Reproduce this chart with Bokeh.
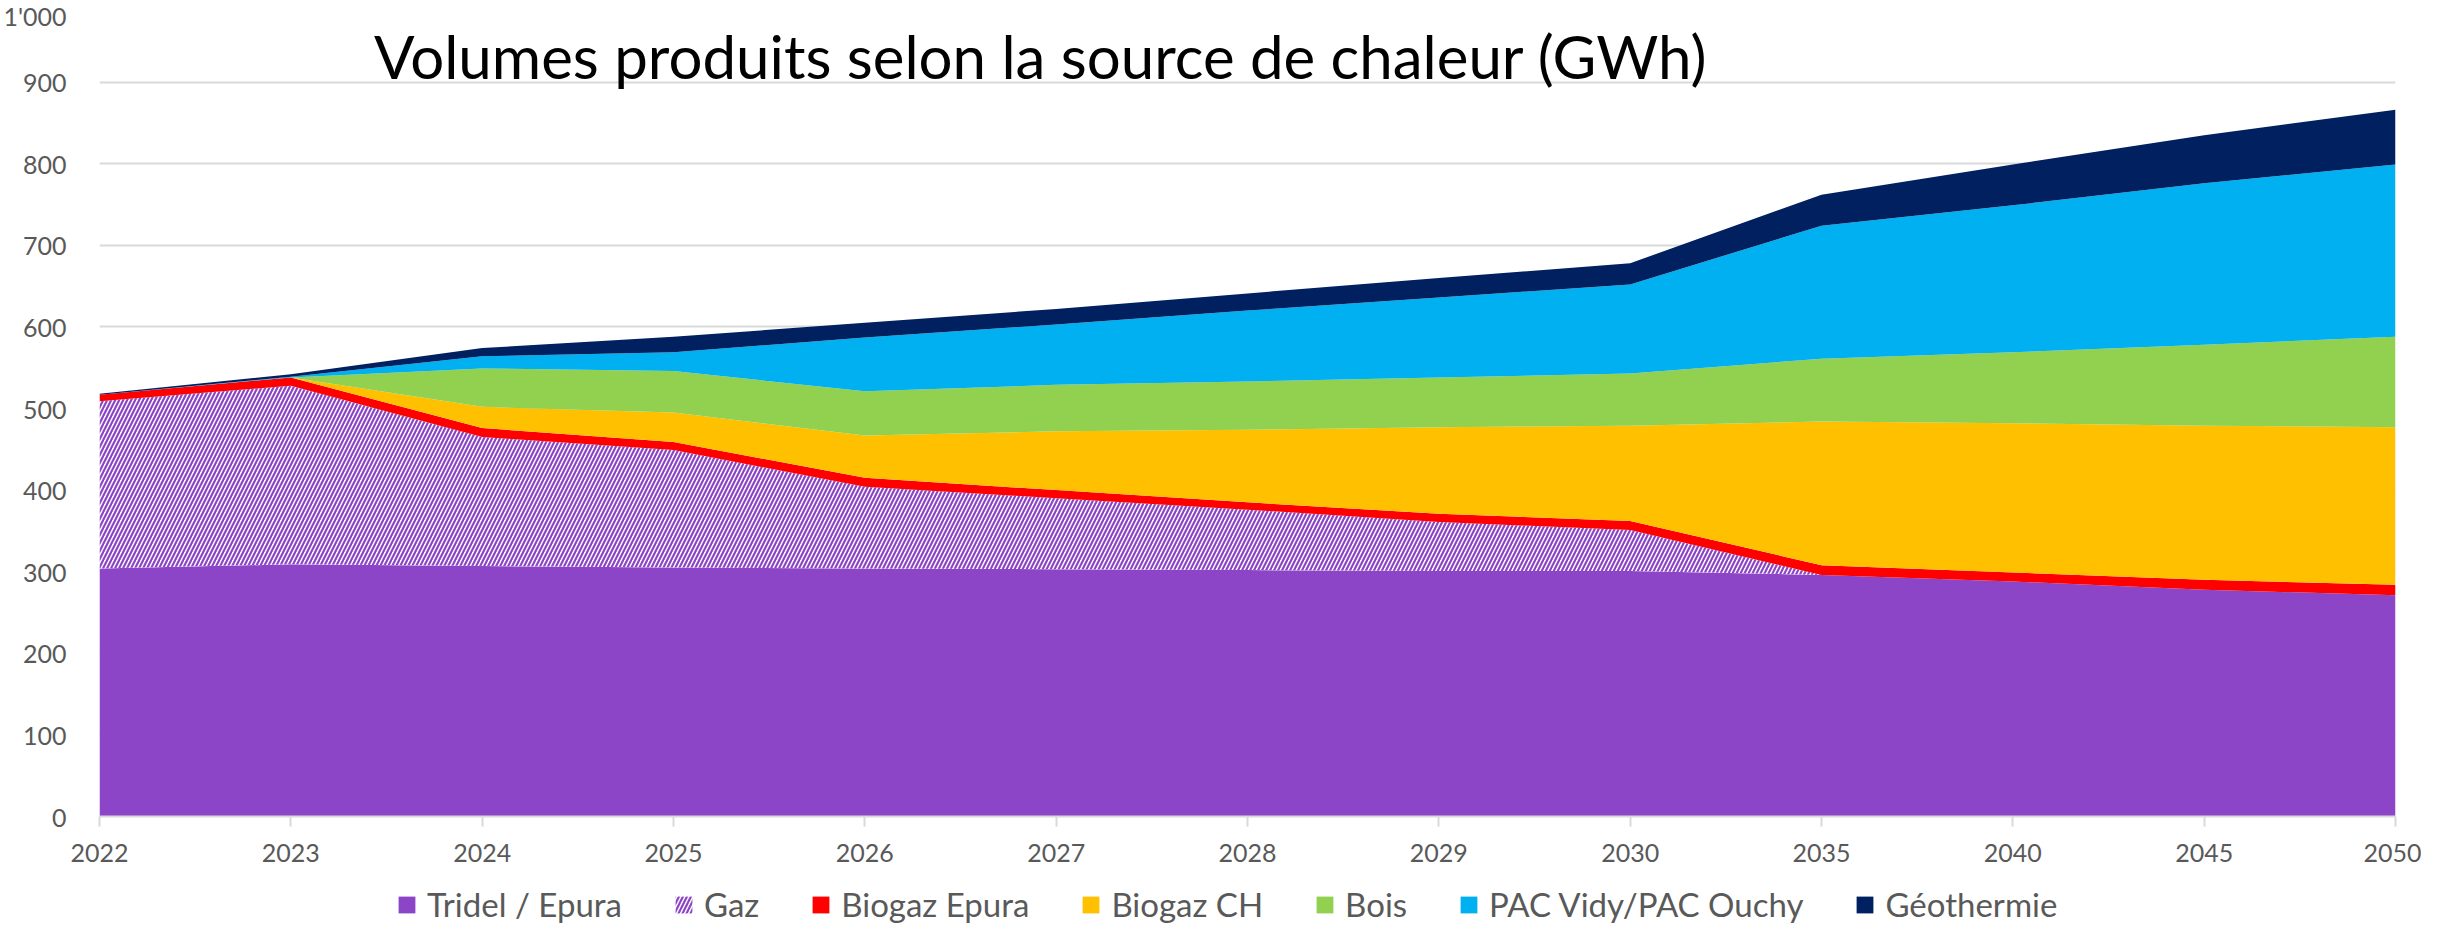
from bokeh.plotting import figure
from bokeh.models import ColumnDataSource, Range1d, FixedTicker, Label, Legend
from bokeh.transform import stack
from bokeh.layouts import column
from bokeh.embed import file_html
from bokeh.resources import INLINE

years = ["2022", "2023", "2024", "2025", "2026", "2027", "2028", "2029", "2030", "2035", "2040", "2045", "2050"]
tridel = [304, 309, 307, 305, 304, 303, 302, 301, 301, 296, 288, 278, 271]
gaz = [205, 219, 158, 144, 100, 87, 74, 60, 50, 0, 0, 0, 0]
biogaz_epura = [8, 10, 11, 10, 11, 10, 9, 10, 11, 12, 11, 12, 13]
biogaz_ch = [0, 0, 26, 36, 52, 72, 89, 106, 117, 176, 183, 189, 193]
bois = [0, 0, 47, 51, 54, 57, 59, 61, 64, 77, 87, 99, 111]
pac = [0, 1, 15, 23, 66, 74, 87, 98, 109, 163, 180, 198, 211]
geo = [1, 3, 10, 19, 18, 19, 21, 24, 26, 38, 50, 59, 67]

names = ["tridel", "gaz", "biogaz_epura", "biogaz_ch", "bois", "pac", "geo"]
labels = ["Tridel / Epura", "Gaz", "Biogaz Epura", "Biogaz CH", "Bois", "PAC Vidy/PAC Ouchy", "Géothermie"]
colors = ["#8B45C6", "#FFFFFF", "#FF0000", "#FFC000", "#92D050", "#00B0F0", "#002060"]

source = ColumnDataSource(dict(x=list(range(len(years))), tridel=tridel, gaz=gaz, biogaz_epura=biogaz_epura,
                               biogaz_ch=biogaz_ch, bois=bois, pac=pac, geo=geo))

FONT = "Lato"
HATCH = dict(hatch_pattern="/", hatch_color="#8B45C6", hatch_scale=8, hatch_weight=2.2)


def add_areas(fig):
    rs = []
    for i, (n, c) in enumerate(zip(names, colors)):
        kw = dict(x="x", y1=stack(*names[:i]), y2=stack(*names[:i + 1]), source=source, fill_color=c)
        if n == "gaz":
            kw.update(HATCH)
        rs.append(fig.varea(**kw))
    return rs


p = figure(width=2421, height=874, output_backend="svg", toolbar_location=None,
           x_range=Range1d(0, len(years) - 1), y_range=Range1d(0, 1000),
           min_border_left=88, min_border_right=26, min_border_top=0, min_border_bottom=58)
p.outline_line_color = None
p.background_fill_color = "white"
add_areas(p)

p.xaxis.ticker = FixedTicker(ticks=list(range(len(years))))
p.xaxis.major_label_overrides = {i: y for i, y in enumerate(years)}
p.xaxis.axis_line_color = "#D9D9D9"
p.xaxis.axis_line_width = 2
p.xaxis.major_tick_line_color = "#D9D9D9"
p.xaxis.major_tick_line_width = 2
p.xaxis.major_tick_out = 10
p.xaxis.major_tick_in = 0
p.xaxis.minor_tick_line_color = None
p.xaxis.major_label_standoff = 17
p.xaxis.major_label_text_font = FONT
p.xaxis.major_label_text_font_size = "25px"
p.xaxis.major_label_text_color = "#595959"

p.yaxis.ticker = FixedTicker(ticks=list(range(0, 1001, 100)))
p.yaxis.major_label_overrides = {1000: "1'000"}
p.yaxis.axis_line_color = None
p.yaxis.major_tick_line_color = None
p.yaxis.minor_tick_line_color = None
p.yaxis.major_label_standoff = 27
p.yaxis.major_label_text_font = FONT
p.yaxis.major_label_text_font_size = "25px"
p.yaxis.major_label_text_color = "#595959"

p.xgrid.grid_line_color = None
p.ygrid.grid_line_color = "#D9D9D9"
p.ygrid.grid_line_width = 2
p.ygrid.level = "underlay"

title = Label(x=4.92, y=932, text="Volumes produits selon la source de chaleur (GWh)",
              text_font=FONT, text_font_size="60px", text_color="black",
              text_align="center", text_baseline="middle")
p.add_layout(title)

# legend strip below the chart (areas drawn outside its visible range; only the legend shows)
p2 = figure(width=2421, height=50, output_backend="svg", toolbar_location=None,
            x_range=Range1d(-20, -19), y_range=Range1d(0, 1),
            x_axis_location=None, y_axis_location=None, min_border=0)
p2.grid.grid_line_color = None
p2.outline_line_color = None
rs = add_areas(p2)
legend = Legend(items=[(lab, [r]) for lab, r in zip(labels, rs)], orientation="horizontal", location=(297, 0),
                label_text_font=FONT, label_text_font_size="33px", label_text_color="#595959",
                glyph_width=21, glyph_height=21, label_standoff=10, spacing=51,
                border_line_color=None, background_fill_alpha=0, padding=0, margin=0)
p2.add_layout(legend)

layout = column(p, p2, spacing=0)
open("out.html", "w").write(file_html(layout, INLINE))
